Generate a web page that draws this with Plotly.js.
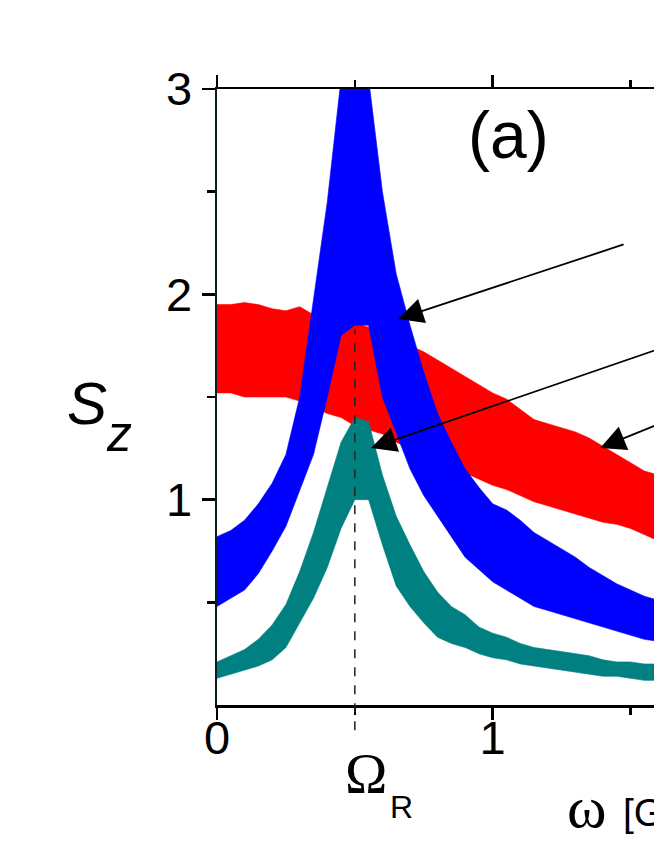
<!DOCTYPE html>
<html>
<head>
<meta charset="utf-8">
<script src="https://cdn.plot.ly/plotly-3.0.1.min.js"></script>
<style>
html,body{margin:0;padding:0;overflow:hidden;background:#fff;width:654px;height:846px;}
#chart{width:1100px;height:846px;}
</style>
</head>
<body>
<div id="chart"></div>
<script>
// frequency grid (GHz) at which the band envelopes were read
const omega = [0,0.05,0.1,0.15,0.2,0.25,0.3,0.35,0.4,0.45,0.5,0.55,0.6,0.65,0.7,0.75,0.8,0.85,0.9,0.95,1.0,1.05,1.1,1.15,1.2,1.25,1.3,1.35,1.4,1.45,1.5,1.55,1.6];

// red spectrum: lower / upper envelope of the noisy trace
const redLo = [1.52,1.52,1.50,1.50,1.50,1.50,1.48,1.45,1.42,1.40,1.36,1.34,1.32,1.28,1.25,1.22,1.20,1.17,1.13,1.10,1.07,1.05,1.02,0.99,0.97,0.95,0.93,0.91,0.89,0.88,0.86,0.83,0.80];
const redHi = [1.95,1.95,1.96,1.95,1.93,1.92,1.94,1.90,1.89,1.88,1.86,1.84,1.80,1.78,1.75,1.72,1.68,1.64,1.60,1.56,1.52,1.49,1.44,1.39,1.37,1.35,1.33,1.30,1.26,1.22,1.18,1.14,1.12];

// blue spectrum
const blueLo = [0.48,0.52,0.56,0.64,0.75,0.87,1.05,1.22,1.50,1.80,1.85,1.85,1.50,1.32,1.15,1.02,0.92,0.82,0.72,0.66,0.60,0.56,0.52,0.48,0.46,0.44,0.42,0.40,0.38,0.36,0.34,0.32,0.31];
const blueHi = [0.82,0.85,0.90,0.98,1.08,1.22,1.50,1.98,2.45,3.05,3.05,3.05,2.50,2.10,1.85,1.62,1.42,1.28,1.15,1.06,0.98,0.95,0.90,0.84,0.80,0.76,0.72,0.67,0.63,0.59,0.56,0.53,0.51];

// teal spectrum
const tealLo = [0.13,0.15,0.17,0.19,0.22,0.28,0.40,0.52,0.67,0.86,1.00,1.00,0.78,0.58,0.48,0.40,0.33,0.30,0.28,0.25,0.23,0.22,0.20,0.19,0.18,0.17,0.16,0.15,0.14,0.14,0.13,0.12,0.12];
const tealHi = [0.21,0.24,0.27,0.32,0.39,0.49,0.65,0.84,1.06,1.28,1.40,1.38,1.12,0.92,0.78,0.65,0.55,0.48,0.44,0.38,0.35,0.33,0.30,0.28,0.27,0.26,0.25,0.24,0.22,0.21,0.21,0.20,0.20];

// axis ticks
const xTickVals = [0,1,2,3];
const xTickText = ['0','1','2','3'];
const xMinorVals = [0.5,1.5,2.5];
const yTickVals = [1,2,3];
const yTickText = ['1','2','3'];
const yMinorVals = [0.5,1.5,2.5];

const omegaR = 0.5;

function band(lo, hi, color){
  return [
    {x: omega, y: lo, type:'scatter', mode:'lines', line:{width:0.6,color:color}, hoverinfo:'skip', showlegend:false},
    {x: omega, y: hi, type:'scatter', mode:'lines', fill:'tonexty', fillcolor:color, line:{width:0.6,color:color}, hoverinfo:'skip', showlegend:false}
  ];
}

const data = [].concat(
  band(redLo, redHi, '#ff0000'),
  band(blueLo, blueHi, '#0000ff'),
  band(tealLo, tealHi, '#008080')
);

const sans = 'Liberation Sans, Arial, sans-serif';
const serif = 'Liberation Serif, Times New Roman, serif';

function label(text, xref, x, y, family, size, xanchor){
  return {text:text, xref:xref, yref:'paper', x:x, y:y, xanchor:xanchor||'center', yanchor:'middle',
          showarrow:false, font:{family:family, size:size, color:'#000'}};
}

const layout = {
  width: 1100, height: 846, autosize: false,
  margin: {l:217, r:56, t:89, b:141},
  paper_bgcolor:'#fff', plot_bgcolor:'#fff',
  showlegend:false,
  font:{family:sans, color:'#000'},
  xaxis:{
    range:[0,3], showgrid:false, zeroline:false,
    showline:true, linewidth:2.5, linecolor:'#000', mirror:'ticks',
    ticks:'outside', ticklen:12, tickwidth:2.5, tickcolor:'#000',
    tickvals:xTickVals, ticktext:xTickText,
    tickfont:{family:sans, size:47, color:'#000'},
    ticklabelstandoff:-22,
    minor:{tickvals:xMinorVals, ticks:'outside', ticklen:7, tickwidth:2.5, tickcolor:'#000'}
  },
  yaxis:{
    range:[0,3], showgrid:false, zeroline:false,
    showline:true, linewidth:2.5, linecolor:'#0a1f1f', mirror:true,
    ticks:'outside', ticklen:13, tickwidth:2.5, tickcolor:'#000',
    tickvals:yTickVals, ticktext:yTickText,
    tickfont:{family:sans, size:47, color:'#000'},
    ticklabelstandoff:0,
    minor:{tickvals:yMinorVals, ticks:'outside', ticklen:8, tickwidth:2.5, tickcolor:'#000'}
  },
  shapes:[
    {type:'line', xref:'x', yref:'paper', x0:omegaR, x1:omegaR, y0:-0.041, y1:0.61,
     line:{color:'#222', width:1.5, dash:'dash'}, layer:'above'}
  ],
  annotations:[
    label('(a)', 'paper', 0.352, 0.925, sans, 66),
    label('<i>S</i>', 'paper', -0.157, 0.49, sans, 60),
    label('<i>z</i>', 'paper', -0.119, 0.44, sans, 50),
    label('Ω', 'x', 0.542, -0.112, serif, 57),
    label('R', 'x', 0.671, -0.166, sans, 32),
    label('ω', 'x', 1.262, -0.165, serif, 60, 'left'),
    label('[GHz]', 'x', 1.466, -0.175, sans, 39, 'left'),
    {text:'', x:0.657, y:1.88, xref:'x', yref:'y', showarrow:true, ax:227, ay:-75, arrowhead:2, arrowsize:2.8, arrowwidth:1.8, arrowcolor:'#000', standoff:0},
    {text:'', x:0.559, y:1.252, xref:'x', yref:'y', showarrow:true, ax:349, ay:-120, arrowhead:2, arrowsize:2.8, arrowwidth:1.8, arrowcolor:'#000', standoff:0},
    {text:'', x:1.39, y:1.252, xref:'x', yref:'y', showarrow:true, ax:120, ay:-49, arrowhead:2, arrowsize:2.8, arrowwidth:1.8, arrowcolor:'#000', standoff:0}
  ]
};

Plotly.newPlot('chart', data, layout, {displayModeBar:false, staticPlot:true});
</script>
</body>
</html>
